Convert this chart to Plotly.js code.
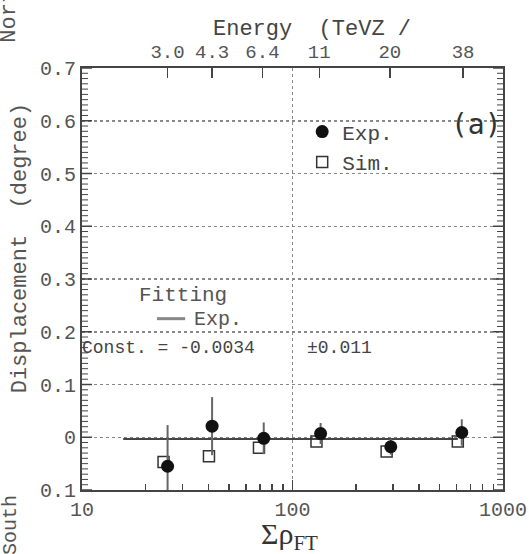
<!DOCTYPE html>
<html>
<head>
<meta charset="utf-8">
<script src="https://cdn.plot.ly/plotly-3.0.1.min.js"></script>
<style>html,body{margin:0;padding:0;background:#fff;}#chart{width:529px;height:554px;}</style>
</head>
<body>
<div id="chart"></div>
<script>
// ---- data ----
const expX    = [25.5, 41.5, 73, 136, 293, 637];
const expY    = [-0.055, 0.021, -0.002, 0.007, -0.018, 0.009];
const expErr  = [0.078, 0.055, 0.030, 0.020, 0.015, 0.025];
const simX    = [24.4, 40.1, 69.3, 130, 280, 610];
const simY    = [-0.047, -0.036, -0.020, -0.008, -0.027, -0.008];
const fitX    = [15.7, 610];
const fitConst = -0.0034;
const fitErr   = 0.011;
const energyPos    = [25.5, 41.5, 72, 134, 290, 646];
const energyLabels = ['3.0', '4.3', '6.4', '11', '20', '38'];
const xTickVals   = [10, 100, 1000];
const xTickText   = ['10', '100', '1000'];
const xMinorVals  = [20,30,40,50,60,70,80,90,200,300,400,500,600,700,800,900];
const yTickVals   = [-0.1, 0, 0.1, 0.2, 0.3, 0.4, 0.5, 0.6, 0.7];
const yTickText   = ['0.1', '0', '0.1', '0.2', '0.3', '0.4', '0.5', '0.6', '0.7'];
const yRange      = [-0.1, 0.7];

// minor tick positions every 0.01 along the y axis (axis decoration, not data)
const yMinorVals = [];
for (let i = -10; i <= 70; i++) { if (i % 10 !== 0) yMinorVals.push(i / 100); }

const mono = 'Liberation Mono, Courier New, monospace';
const txtCol = '#555';
const axCol = '#444';

// inside tick marks on both vertical edges, placed on the y scale
const plotW = 529 - 82 - 26;
const majLen = 10 / plotW, minLen = 6 / plotW;
const tickShapes = [];
function addTicks(vals, len, w) {
  vals.forEach(v => {
    tickShapes.push({type: 'line', xref: 'paper', yref: 'y', x0: 0, x1: len, y0: v, y1: v,
                     line: {color: axCol, width: w}, layer: 'above'});
    tickShapes.push({type: 'line', xref: 'paper', yref: 'y', x0: 1 - len, x1: 1, y0: v, y1: v,
                     line: {color: axCol, width: w}, layer: 'above'});
  });
}
addTicks(yTickVals, majLen, 1.5);
addTicks(yMinorVals, minLen, 1);

const traces = [
  {
    x: fitX, y: fitX.map(() => fitConst), type: 'scatter', mode: 'lines',
    line: {color: '#444', width: 2}, showlegend: false, hoverinfo: 'skip'
  },
  {
    x: simX, y: simY, type: 'scatter', mode: 'markers', name: 'Sim.',
    marker: {symbol: 'square-open', size: 11, color: '#333', line: {width: 1.5, color: '#333'}}
  },
  {
    x: expX, y: expY, type: 'scatter', mode: 'markers', name: 'Exp.',
    error_y: {type: 'data', array: expErr, visible: true, color: '#666', thickness: 2, width: 0},
    marker: {symbol: 'circle', size: 13, color: '#111'}
  },
  {
    x: energyPos, y: energyPos.map(() => 0), xaxis: 'x2', type: 'scatter', mode: 'markers',
    marker: {opacity: 0}, showlegend: false, hoverinfo: 'skip'
  }
];

const layout = {
  width: 529, height: 554,
  margin: {l: 82, r: 26, t: 68, b: 64},
  font: {family: mono, color: txtCol, size: 20},
  showlegend: true,
  legend: {
    x: 0.523, y: 0.897, xanchor: 'left', yanchor: 'top',
    font: {family: mono, size: 21, color: '#444'},
    bgcolor: 'rgba(0,0,0,0)', traceorder: 'reversed', itemwidth: 30, tracegroupgap: 0
  },
  xaxis: {
    type: 'log', range: [1, 3],
    tickvals: xTickVals, ticktext: xTickText,
    ticks: 'inside', ticklen: 10, tickwidth: 1.5, tickcolor: axCol,
    showline: true, linecolor: axCol, linewidth: 2, mirror: false,
    showgrid: true, gridcolor: '#888', griddash: 'dot', gridwidth: 1.5,
    zeroline: false,
    tickfont: {family: mono, size: 20, color: txtCol},
    minor: {tickmode: 'array', tickvals: xMinorVals, ticks: 'inside', ticklen: 6, tickcolor: axCol, showgrid: false}
  },
  xaxis2: {
    type: 'log', range: [1, 3], overlaying: 'x', side: 'top', anchor: 'y',
    tickvals: energyPos, ticktext: energyLabels,
    ticks: 'inside', ticklen: 10, tickwidth: 1.5, tickcolor: axCol,
    showline: true, linecolor: axCol, linewidth: 2,
    showgrid: false, zeroline: false,
    tickfont: {family: mono, size: 19, color: txtCol}
  },
  yaxis: {
    range: yRange,
    tickmode: 'array', tickvals: yTickVals, ticktext: yTickText,
    ticks: '', showline: true, linecolor: axCol, linewidth: 2, mirror: true,
    showgrid: true, gridcolor: '#888', griddash: 'dot', gridwidth: 1.5,
    zeroline: false,
    tickfont: {family: mono, size: 20, color: txtCol}
  },
  shapes: [
    {type: 'line', xref: 'paper', yref: 'paper', x0: 0.178, x1: 0.245, y0: 0.406, y1: 0.406,
     line: {color: '#888', width: 3}}
  ].concat(tickShapes),
  annotations: [
    {text: 'Energy  (TeVZ /', xref: 'paper', yref: 'paper', x: 0.546, y: 1.092,
     xanchor: 'center', yanchor: 'middle', showarrow: false, font: {family: mono, size: 22, color: '#444'}},
    {text: 'North', xref: 'paper', yref: 'paper', x: -0.171, y: 1.138, textangle: -90,
     xanchor: 'center', yanchor: 'middle', showarrow: false, font: {family: mono, size: 22, color: txtCol}},
    {text: 'South', xref: 'paper', yref: 'paper', x: -0.171, y: -0.083, textangle: -90,
     xanchor: 'center', yanchor: 'middle', showarrow: false, font: {family: mono, size: 20, color: txtCol}},
    {text: 'Displacement  (degree)', xref: 'paper', yref: 'paper', x: -0.147, y: 0.573, textangle: -90,
     xanchor: 'center', yanchor: 'middle', showarrow: false, font: {family: mono, size: 22, color: txtCol}},
    {text: 'Σρ<sub>FT</sub>', xref: 'paper', yref: 'paper', x: 0.492, y: -0.108,
     xanchor: 'center', yanchor: 'middle', showarrow: false, font: {family: 'Liberation Serif, serif', size: 30, color: '#333'}},
    {text: '(a)', xref: 'paper', yref: 'paper', x: 0.936, y: 0.865,
     xanchor: 'center', yanchor: 'middle', showarrow: false, font: {family: 'DejaVu Sans Mono, monospace', size: 28, color: '#333'}},
    {text: 'Fitting', xref: 'paper', yref: 'paper', x: 0.240, y: 0.460,
     xanchor: 'center', yanchor: 'middle', showarrow: false, font: {family: mono, size: 21, color: txtCol}},
    {text: 'Exp.', xref: 'paper', yref: 'paper', x: 0.261, y: 0.404,
     xanchor: 'left', yanchor: 'middle', showarrow: false, font: {family: mono, size: 20, color: txtCol}},
    {text: 'Const. = ' + fitConst.toFixed(4), xref: 'paper', yref: 'paper', x: -0.005, y: 0.336,
     xanchor: 'left', yanchor: 'middle', showarrow: false, font: {family: mono, size: 18, color: '#444'}},
    {text: '±' + fitErr.toFixed(3), xref: 'paper', yref: 'paper', x: 0.530, y: 0.336,
     xanchor: 'left', yanchor: 'middle', showarrow: false, font: {family: mono, size: 18, color: '#444'}}
  ]
};

Plotly.newPlot('chart', traces, layout, {staticPlot: true, displayModeBar: false});
</script>
</body>
</html>
